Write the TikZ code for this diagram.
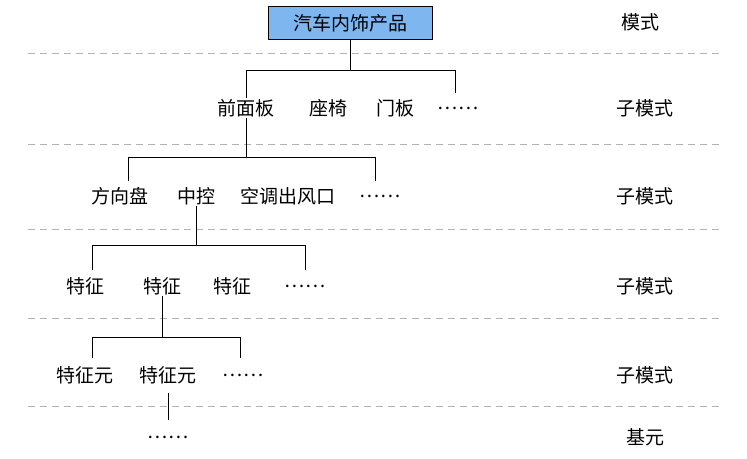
\documentclass[tikz,border=0pt]{standalone}
\usepackage{fontspec}
\setmainfont{Noto Sans CJK SC}
\begin{document}
\begin{tikzpicture}[x=1pt,y=-1pt,
  t/.style={inner sep=1pt,font=\fontsize{19}{22}\selectfont},
  ln/.style={line width=0.8pt},
  sep/.style={gray!60,dashed,line width=0.8pt,dash pattern=on 7pt off 5pt}]
\useasboundingbox (0,0) rectangle (747,458);
\node[t,draw,fill={rgb,255:red,126;green,182;blue,240},minimum width=164pt,minimum height=33pt] (root) at (350,23) {汽车内饰产品};
\foreach \y in {53,144,229,318,406} \draw[sep] (28,\y) -- (722,\y);
\node[t] (m0) at (640,22) {模式};
\node[t] (m1) at (645,108) {子模式};
\node[t] (m2) at (645,196) {子模式};
\node[t] (m3) at (645,286) {子模式};
\node[t] (m4) at (645,375) {子模式};
\node[t] (m5) at (645,437) {基元};
% level 1
\node[t] (a1) at (246,108) {前面板};
\node[t] (a2) at (328,108) {座椅};
\node[t] (a3) at (395,108) {门板};
\node[t] (a4) at (458,108) {……};
\coordinate (h1) at (350,70);
\draw[ln] (root.south) -- (h1);
\draw[ln] (a1.north) -- (246,70) -- (455,70) -- (455,93);
% level 2
\node[t] (b1) at (120,196) {方向盘};
\node[t] (b2) at (196,196) {中控};
\node[t] (b3) at (288,196) {空调出风口};
\node[t] (b4) at (380,196) {……};
\draw[ln] (a1.south) -- (246,157);
\draw[ln] (128,181) -- (128,157) -- (375,157) -- (375,181);
% level 3
\node[t] (c1) at (85,286) {特征};
\node[t] (c2) at (162,286) {特征};
\node[t] (c3) at (232,286) {特征};
\node[t] (c4) at (305,286) {……};
\draw[ln] (b2.south) -- (196,245);
\draw[ln] (92,270) -- (92,245) -- (305,245) -- (305,270);
% level 4
\node[t] (d1) at (85,375) {特征元};
\node[t] (d2) at (168,375) {特征元};
\node[t] (d3) at (243,375) {……};
\draw[ln] (c2.south) -- (162,337);
\draw[ln] (92,358) -- (92,337) -- (240,337) -- (240,358);
% level 5
\node[t] (e1) at (168,437) {……};
\draw[ln] (168,393) -- (168,420);
\end{tikzpicture}
\end{document}
